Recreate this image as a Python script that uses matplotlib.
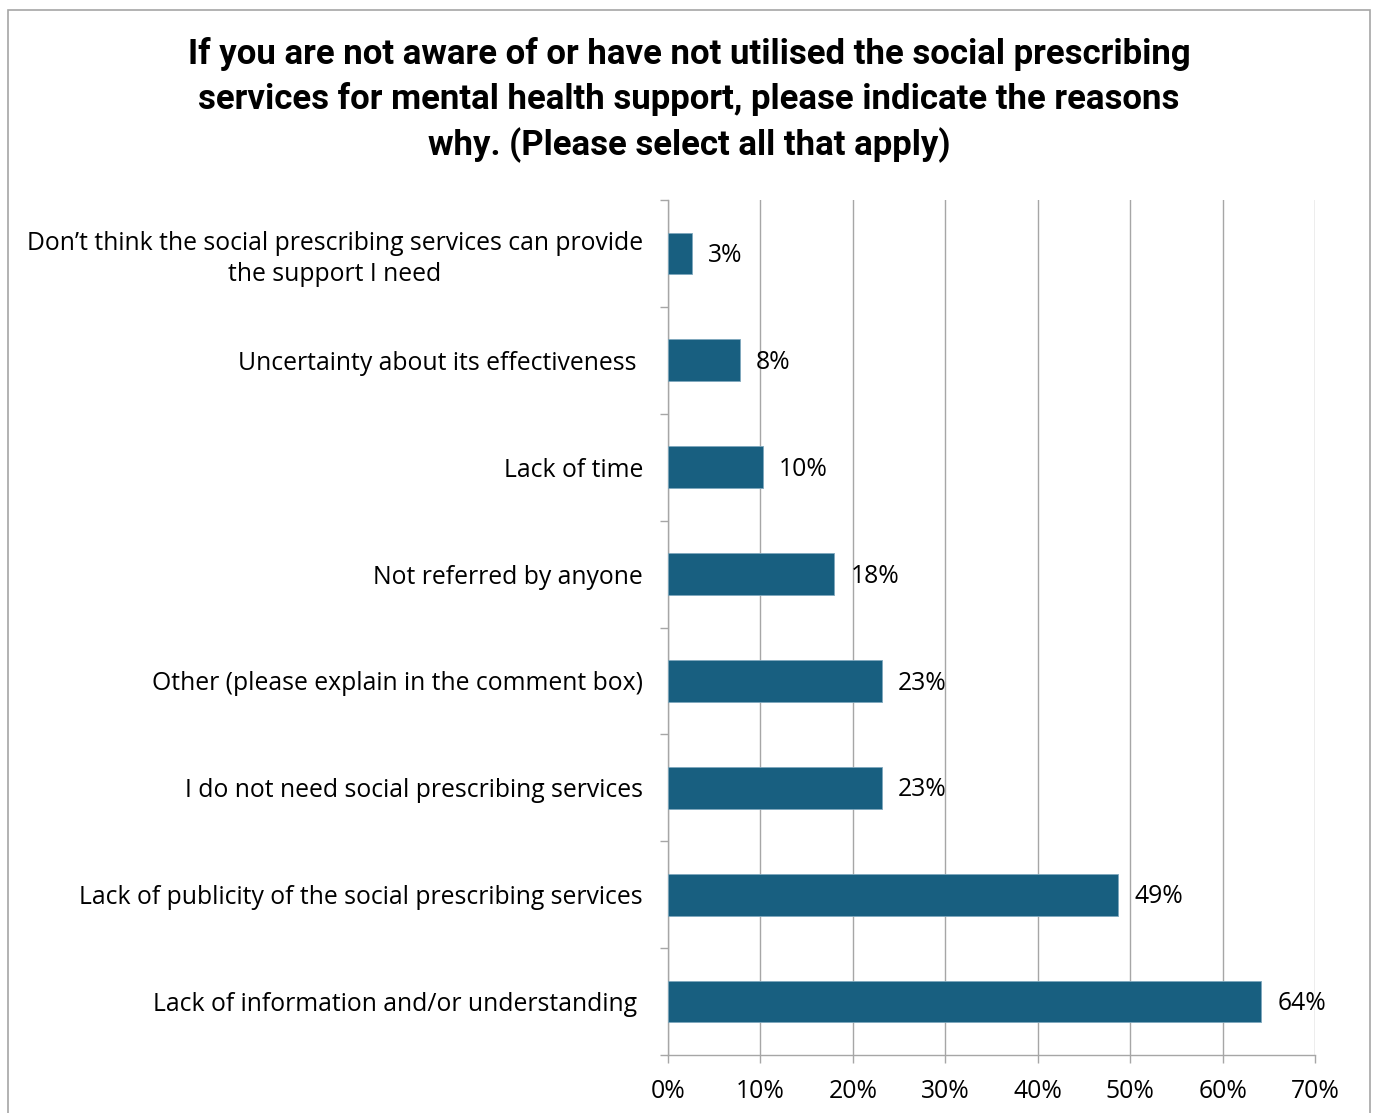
import matplotlib.pyplot as plt
from matplotlib.patches import Rectangle
from matplotlib.ticker import PercentFormatter, FixedLocator

# survey responses (share of respondents), listed top to bottom
reasons = [
    "Don\u2019t think the social prescribing services can provide\nthe support I need",
    "Uncertainty about its effectiveness ",
    "Lack of time",
    "Not referred by anyone",
    "Other (please explain in the comment box)",
    "I do not need social prescribing services",
    "Lack of publicity of the social prescribing services",
    "Lack of information and/or understanding ",
]
shares = [0.026, 0.078, 0.103, 0.180, 0.231, 0.231, 0.487, 0.642]
x_ticks = [0, 0.1, 0.2, 0.3, 0.4, 0.5, 0.6, 0.7]

title = ("If you are not aware of or have not utilised the social prescribing\n"
         "services for mental health support, please indicate the reasons\n"
         "why. (Please select all that apply)")

bar_color = "#185f80"
grid_color = "#a6a6a6"
fs = 17.8

plt.rcParams['font.family'] = ['Open Sans', 'DejaVu Sans']

fig = plt.figure(figsize=(13.75, 11.13), dpi=100)
fig.patches.append(Rectangle((8 / 1375, -0.01), 1362 / 1375, 1 - 10 / 1113 + 0.01,
                             transform=fig.transFigure, fill=False,
                             edgecolor="#a6a6a6", linewidth=1.2))

ax = fig.add_axes([668 / 1375, 1 - 1055 / 1113, (1315 - 668) / 1375, (1055 - 200) / 1113])

ypos = list(range(len(reasons)))
ax.barh(ypos, shares, height=0.39, color=bar_color, edgecolor="#7fa8bd",
        linewidth=0.6, zorder=3)
ax.set_ylim(len(reasons) - 0.5, -0.5)
ax.set_xlim(0, 0.7)

for y, v in zip(ypos, shares):
    ax.annotate(f"{v:.0%}", (v, y), xytext=(11.5, -1.5), textcoords="offset points",
                ha="left", va="center", fontsize=fs, color="#000000", zorder=4)

ax.set_yticks(ypos)
ax.set_yticklabels(reasons, fontsize=fs, ha="right", multialignment="center",
                   linespacing=1.3)
ax.yaxis.set_minor_locator(FixedLocator([i - 0.5 for i in range(len(reasons) + 1)]))
ax.tick_params(axis="y", which="minor", length=6, color=grid_color, width=1)
ax.tick_params(axis="y", which="major", length=0, pad=18)

ax.set_xticks(x_ticks)
ax.xaxis.set_major_formatter(PercentFormatter(1.0, decimals=0))
ax.tick_params(axis="x", length=6, color=grid_color, width=1, labelsize=fs, pad=11)
ax.grid(axis="x", color=grid_color, linewidth=1, zorder=0)

for side in ("top", "right"):
    ax.spines[side].set_visible(False)
for side in ("left", "bottom"):
    ax.spines[side].set_color(grid_color)
    ax.spines[side].set_linewidth(1)

fig.text(689 / 1375, 1 - 37 / 1113, title, ha="center", va="top", fontsize=25,
         fontweight="bold", linespacing=1.4,
         family=['Roboto', 'Open Sans', 'DejaVu Sans'])

fig.savefig("out.png", dpi=100)
